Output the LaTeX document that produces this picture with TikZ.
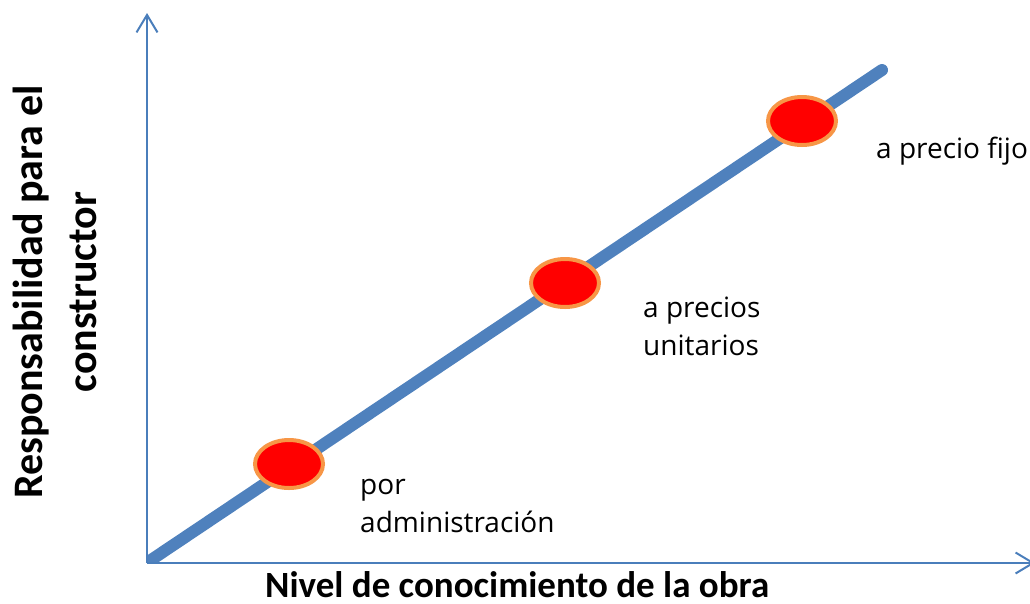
\documentclass[tikz,border=0pt]{standalone}
\usepackage{fontspec}
\setmainfont{Carlito}
\newfontfamily\labfont{Open Sans}
\usetikzlibrary{arrows.meta,shapes.geometric}
\definecolor{axisblue}{RGB}{74,126,187}
\definecolor{lineblue}{RGB}{79,129,189}
\definecolor{dotorange}{RGB}{247,150,70}
\definecolor{dotred}{RGB}{255,0,0}
\begin{document}
\begin{tikzpicture}[x=1pt,y=-1pt,
  axisline/.style={draw=axisblue,line width=2pt,-{Straight Barb[length=17.5pt,width=21pt]}},
  trendline/.style={draw=lineblue,line width=12pt,line cap=round},
  dot/.style={ellipse,draw=dotorange,fill=dotred,line width=4pt,minimum width=68pt,minimum height=48pt,inner sep=0pt},
  smalllabel/.style={font=\labfont\fontsize{28}{38}\selectfont,align=left,anchor=base west,inner sep=0pt},
  axislabel/.style={font=\bfseries\fontsize{37}{45}\selectfont,inner sep=0pt}]
\useasboundingbox (0,0) rectangle (1030,603);
\coordinate (O) at (147,563);
\coordinate (Ytip) at (147,13);
\coordinate (Xtip) at (1035,563);
\coordinate (Lstart) at (148,562);
\coordinate (Lend) at (882,70);
\begin{scope}
  \clip (147,0) rectangle (1030,563);
  \draw[trendline] (Lstart) -- (Lend);
\end{scope}
\draw[axisline] (O) -- (Ytip);
\draw[axisline] (O) -- (Xtip);
\node[dot] (d1) at (289,464) {};
\node[dot] (d2) at (565,283) {};
\node[dot] (d3) at (802,121) {};
\node[smalllabel] (l3) at (876,158) {a precio fijo};
\node[smalllabel] (l2) at (643,355) {a precios\\unitarios};
\node[smalllabel] (l1) at (360,532) {por\\administración};
\node[axislabel,anchor=base west] (xl) at (265,597) {Nivel de conocimiento de la obra};
\node[axislabel,font=\bfseries\fontsize{42}{54}\selectfont,align=center,rotate=90] (yl) at (55,292) {Responsabilidad para el\\constructor};
\end{tikzpicture}
\end{document}
